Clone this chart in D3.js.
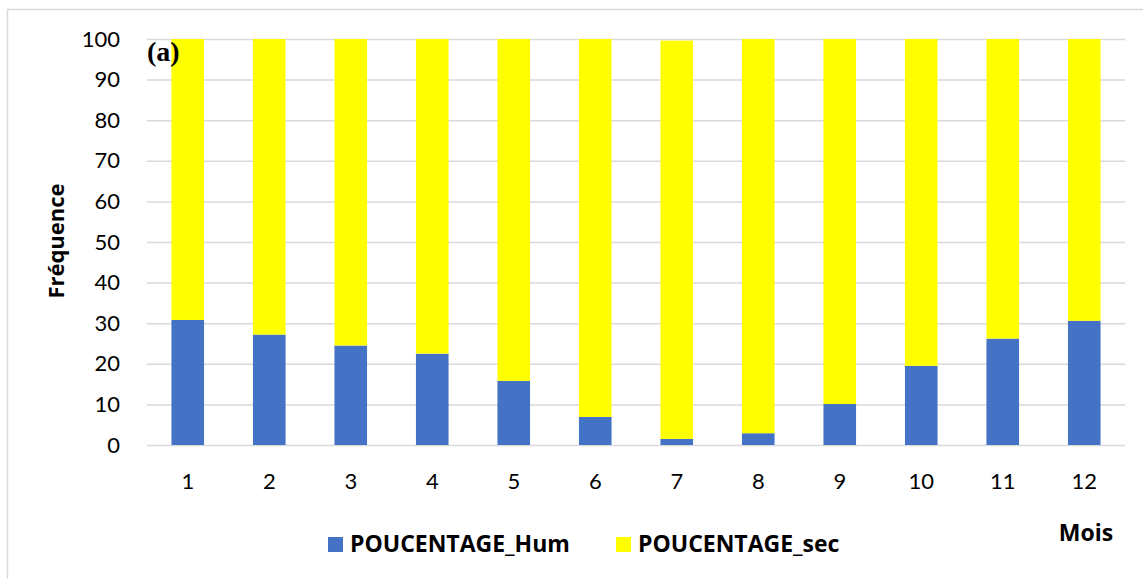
<!DOCTYPE html>
<html>
<head>
<meta charset="utf-8">
<script src="https://cdn.jsdelivr.net/npm/d3@7"></script>
<style>
  body { margin: 0; background: #fff; }
  svg { display: block; }
</style>
</head>
<body>
<div id="chart-area"></div>
<script>
const months = ["1", "2", "3", "4", "5", "6", "7", "8", "9", "10", "11", "12"];
const humValues = [30.8, 27.2, 24.5, 22.5, 15.8, 6.9, 1.5, 2.9, 10.1, 19.5, 26.2, 30.6];
const secValues = [69.2, 72.8, 75.5, 77.5, 84.2, 93.1, 98.1, 97.1, 89.9, 80.5, 73.8, 69.4];
const yTicks = [0, 10, 20, 30, 40, 50, 60, 70, 80, 90, 100];
const seriesNames = ["POUCENTAGE_Hum", "POUCENTAGE_sec"];
const seriesColors = ["#4472c4", "#ffff00"];

const svgWidth = 1143;
const svgHeight = 579;
const margin = { top: 39, right: 18, bottom: 134, left: 147 };
const width = svgWidth - margin.left - margin.right;
const height = svgHeight - margin.top - margin.bottom;
const font = "Lato, 'Open Sans', sans-serif";
const boldFont = "'Open Sans', Lato, sans-serif";

const root = d3.select("#chart-area")
    .append("svg")
    .attr("width", svgWidth)
    .attr("height", svgHeight);

// chart frame
root.append("rect")
    .attr("x", 7.5)
    .attr("y", 9.5)
    .attr("width", svgWidth)
    .attr("height", svgHeight)
    .attr("fill", "none")
    .attr("stroke", "#d9d9d9")
    .attr("stroke-width", 1.5);

const svg = root.append("g")
    .attr("transform", `translate(${margin.left},${margin.top})`);

const xScale = d3.scaleBand()
    .domain(months)
    .range([0, width])
    .paddingInner(0.6)
    .paddingOuter(0.3);

const yScale = d3.scaleLinear()
    .domain([0, 100])
    .range([height, 0]);

// grid
svg.append("g")
    .attr("class", "y-grid")
    .call(d3.axisLeft(yScale)
        .tickValues(yTicks)
        .tickSize(-width)
        .tickFormat("")
    )
    .call(g => g.select(".domain").remove())
    .selectAll("line")
    .attr("stroke", "#d9d9d9")
    .attr("stroke-width", 1.5);

// y axis labels
const yAxisGroup = svg.append("g")
    .attr("class", "y-axis")
    .call(d3.axisLeft(yScale).tickValues(yTicks).tickSize(0).tickPadding(27));
yAxisGroup.select(".domain").remove();
yAxisGroup.selectAll("text")
    .style("font-family", font)
    .style("font-size", "22px")
    .attr("fill", "#000");

// x axis labels
const xAxisGroup = svg.append("g")
    .attr("class", "x-axis")
    .attr("transform", `translate(0, ${height})`)
    .call(d3.axisBottom(xScale).tickSize(0).tickPadding(28));
xAxisGroup.select(".domain").remove();
xAxisGroup.selectAll("text")
    .style("font-family", font)
    .style("font-size", "22px")
    .attr("fill", "#000");

// stacked bars
const rows = months.map((m, i) => ({ month: m, hum: humValues[i], sec: secValues[i] }));
const stacked = d3.stack().keys(["hum", "sec"])(rows);

svg.selectAll(".series")
    .data(stacked)
    .join("g")
    .attr("class", "series")
    .attr("fill", (d, i) => seriesColors[i])
    .selectAll("rect")
    .data(d => d)
    .join("rect")
    .attr("x", d => xScale(d.data.month))
    .attr("y", d => yScale(d[1]))
    .attr("width", xScale.bandwidth())
    .attr("height", d => yScale(d[0]) - yScale(d[1]));

// panel label
svg.append("text")
    .attr("x", 0)
    .attr("y", 22)
    .style("font-family", "'Liberation Serif', 'Times New Roman', serif")
    .style("font-size", "28px")
    .style("font-weight", "bold")
    .text("(a)");

// y title
root.append("text")
    .attr("transform", "translate(64,241) rotate(-90)")
    .attr("text-anchor", "middle")
    .style("font-family", boldFont)
    .style("font-size", "22px")
    .style("font-weight", "bold")
    .text("Fréquence");

// x title
root.append("text")
    .attr("x", 1086)
    .attr("y", 541)
    .attr("text-anchor", "middle")
    .style("font-family", boldFont)
    .style("font-size", "23px")
    .style("font-weight", "bold")
    .text("Mois");

// legend
const legendX = [328, 616];
const legend = root.selectAll(".legend")
    .data(seriesNames)
    .join("g")
    .attr("class", "legend")
    .attr("transform", (d, i) => `translate(${legendX[i]}, 537)`);
legend.append("rect")
    .attr("width", 15)
    .attr("height", 15)
    .attr("fill", (d, i) => seriesColors[i]);
legend.append("text")
    .attr("x", 22)
    .attr("y", 15)
    .style("font-family", boldFont)
    .style("font-size", "23px")
    .style("font-weight", "bold")
    .text(d => d);
</script>
</body>
</html>
